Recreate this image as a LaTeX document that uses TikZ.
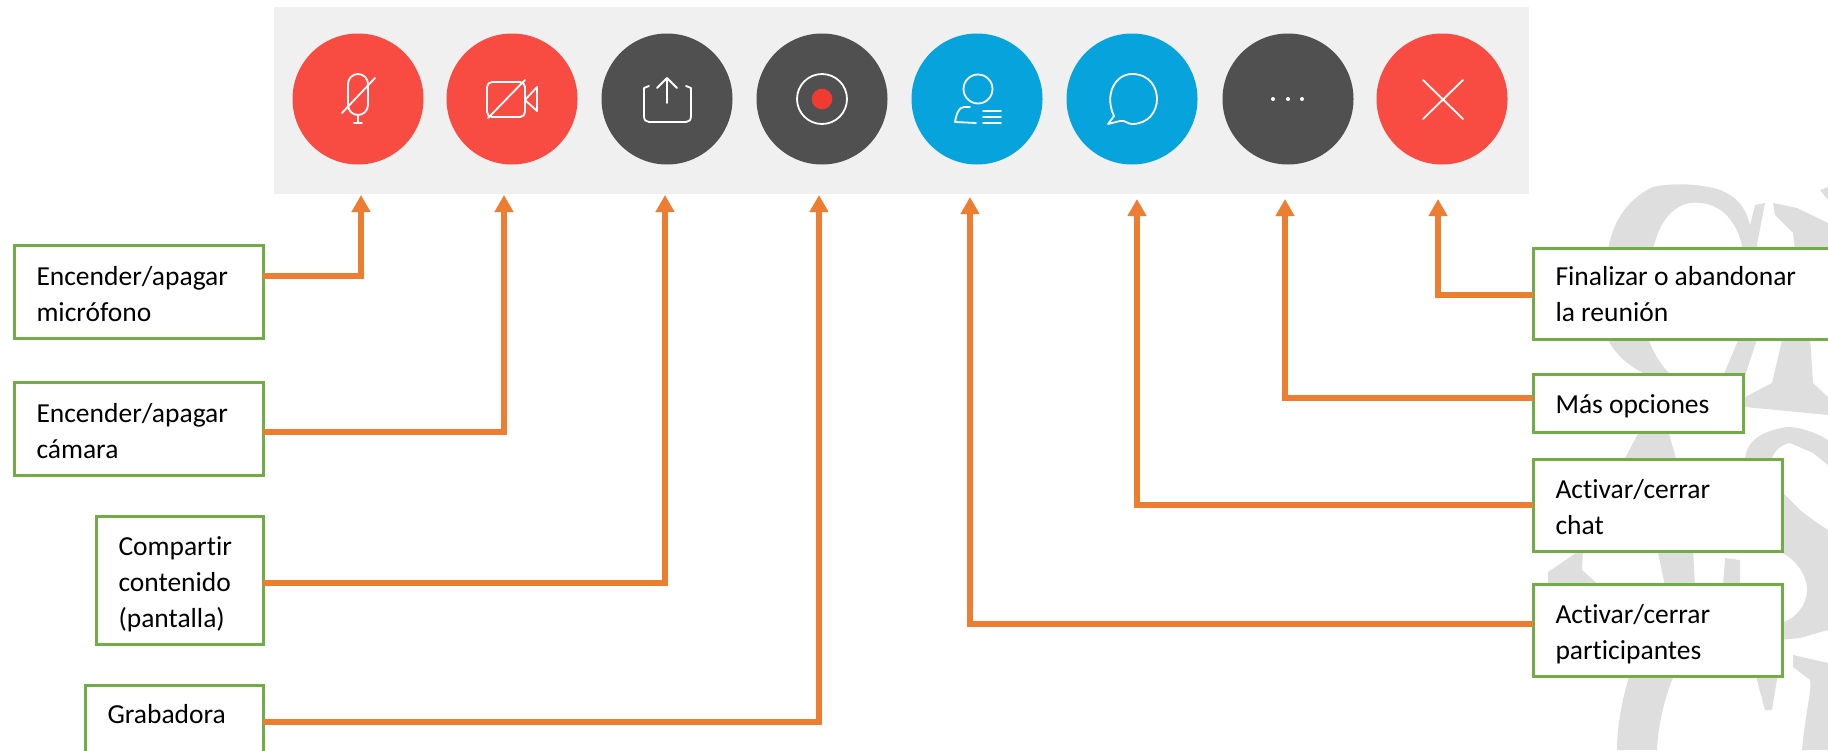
\documentclass[tikz,border=0pt]{standalone}
\usepackage{fontspec}
\setmainfont[Ligatures={NoCommon}]{Carlito}
\usetikzlibrary{arrows.meta}
\definecolor{wm}{HTML}{DEDEDE}
\definecolor{barbg}{HTML}{F0F0F0}
\definecolor{rojo}{HTML}{F84C42}
\definecolor{oscuro}{HTML}{505050}
\definecolor{azul}{HTML}{07A3DC}
\definecolor{naranja}{HTML}{ED7D31}
\definecolor{verde}{HTML}{70AD47}
\definecolor{punto}{HTML}{F23B30}
\newcommand{\lbl}[4]{\parbox[t][#2pt][t]{#1pt}{\vspace*{\dimexpr#3pt-25.2pt\relax}\raggedright\leftskip=22.5pt\relax\strut #4}}
\tikzset{
  btn/.style={circle,minimum size=131pt,inner sep=0pt,outer sep=0pt},
  lblbox/.style={draw=verde,line width=3pt,fill=white,inner sep=0pt,outer sep=0pt,anchor=north west,
    font=\fontsize{27.5}{36}\selectfont,text=black},
  conn/.style={draw=naranja,line width=5.5pt,-{Triangle[width=18pt,length=17pt]}},
  icon/.style={draw=white,line width=1.8pt,line cap=round,line join=round},
}
\begin{document}
\begin{tikzpicture}[x=1pt,y=-1pt]
\useasboundingbox (0,0) rectangle (1828,750);
\clip (0,0) rectangle (1828,750);
% watermark
\begin{scope}[fill=wm]
\fill (1608,250) .. controls (1612,225) and (1625,200) .. (1653,187) .. controls (1670,183) and (1700,183) .. (1720,190) .. controls (1735,196) and (1745,205) .. (1750,225) -- (1755,205) -- (1765,203) -- (1756,250) -- (1743,250) .. controls (1738,225) and (1725,205) .. (1700,203) .. controls (1680,200) and (1660,215) .. (1653,250) -- cycle;
\fill (1773,203) -- (1797,208) -- (1828,223) -- (1828,250) -- (1795,250) -- (1793,233) -- (1775,215) -- cycle;
\fill (1820,190) -- (1828,187) -- (1828,200) -- cycle;
\fill (1606,336) -- (1647,336) .. controls (1652,350) and (1660,365) .. (1672,376) -- (1650,376) .. controls (1630,368) and (1615,355) .. (1606,336) -- cycle;
\fill (1740,336) -- (1758,336) -- (1745,376) -- (1723,376) -- cycle;
\fill (1783,336) -- (1772,383) -- (1745,397) -- (1745,407) -- (1828,415) -- (1828,397) -- (1813,383) -- (1810,336) -- cycle;
\fill (1745,462) .. controls (1745,445) and (1755,432) .. (1787,427) .. controls (1800,427) and (1815,432) .. (1828,440) -- (1828,465) -- (1813,453) -- (1790,443) .. controls (1780,445) and (1775,450) .. (1770,462) -- cycle;
\fill (1623,462) -- (1640,430) -- (1668,430) -- (1677,462) -- cycle;
\fill (1780,490) -- (1800,510) -- (1813,520) -- (1828,530) -- (1828,630) -- (1800,638) -- (1780,640) -- (1780,623) .. controls (1795,620) and (1807,605) .. (1807,590) .. controls (1807,575) and (1795,558) .. (1780,552) -- cycle;
\fill (1548,572) -- (1570,557) -- (1583,548) -- (1582,570) -- (1600,586) -- (1548,586) -- cycle;
\fill (1657,548) -- (1693,548) -- (1695,586) -- (1665,586) -- cycle;
\fill (1725,558) -- (1740,560) -- (1740,586) -- (1723,586) -- cycle;
\fill (1755,673) -- (1778,673) -- (1772,710) -- (1765,710) -- cycle;
\fill (1793,655) -- (1828,663) -- (1828,750) -- (1802,750) .. controls (1805,715) and (1812,690) .. (1810,680) -- (1793,667) -- cycle;
\fill (1630,673) -- (1675,673) .. controls (1665,695) and (1658,725) .. (1657,750) -- (1617,750) .. controls (1617,725) and (1622,700) .. (1630,673) -- cycle;
\end{scope}
% bar and buttons
\node[fill=barbg,inner sep=0pt,outer sep=0pt,minimum width=1255pt,minimum height=187pt,anchor=north west] (bar) at (274,7) {};
\node[btn,fill=rojo] (c1) at (358,99) {};
\node[btn,fill=rojo] (c2) at (512,99) {};
\node[btn,fill=oscuro] (c3) at (667,99) {};
\node[btn,fill=oscuro] (c4) at (822,99) {};
\node[btn,fill=azul] (c5) at (977,99) {};
\node[btn,fill=azul] (c6) at (1132,99) {};
\node[btn,fill=oscuro] (c7) at (1288,99) {};
\node[btn,fill=rojo] (c8) at (1442,99) {};
% icons
\draw[icon,rounded corners=10pt] (348,74) rectangle (368,115);
\draw[icon] (342,113) -- (375,78);
\draw[icon] (358,115) -- (358,122) (354,123) -- (362,123);
\draw[icon,rounded corners=5pt] (487,82) rectangle (525,117);
\draw[icon] (525,100) -- (537,87) -- (537,111) -- cycle;
\draw[icon] (488,118) -- (525,80);
\draw[icon] (649,86) -- (644,88) -- (644,116) .. controls (644,120) and (646,122) .. (649,122) -- (686,122) .. controls (689,122) and (691,120) .. (691,116) -- (691,88) -- (686,86);
\draw[icon] (667,103) -- (667,78) (657,88) -- (667,78) -- (677,88);
\draw[icon] (822,99) circle[radius=25pt];
\fill[fill=punto] (822,99) circle[radius=10.3pt];
\draw[icon] (978,89) circle[radius=14.5pt];
\draw[icon] (970,107) -- (964,107) .. controls (958,107) and (956,116) .. (955,122) -- (976,123);
\draw[icon] (983,111) -- (1001,111) (983,117) -- (1001,117) (983,123) -- (1001,123);
\draw[icon] (1114,116) .. controls (1104,95) and (1115,74) .. (1132,74) .. controls (1150,74) and (1157,88) .. (1157,99) .. controls (1157,112) and (1148,124) .. (1132,124) .. controls (1127,124) and (1126,120) .. (1120,121) -- (1108,124) -- cycle;
\fill[white] (1273,99) circle[radius=2pt] (1288,99) circle[radius=2pt] (1302,99) circle[radius=2pt];
\draw[icon] (1423,80) -- (1463,119) (1463,80) -- (1423,119);
% boxes
\node[lblbox] (b1) at (14,245) {\lbl{249}{93}{40}{Encender/apagar\\micrófono}};
\node[lblbox] (b2) at (14,382) {\lbl{249}{93}{40}{Encender/apagar\\cámara}};
\node[lblbox] (b3) at (96,516) {\lbl{167}{128}{39}{Compartir\\contenido\\(pantalla)}};
\node[lblbox] (b4) at (85,685) {\lbl{178}{75}{38}{Grabadora}};
\node[lblbox] (r1) at (1533,248) {\lbl{310}{91}{37}{Finalizar o abandonar\\la reunión}};
\node[lblbox] (r2) at (1533,374) {\lbl{210}{58}{39}{Más opciones}};
\node[lblbox] (r3) at (1533,459) {\lbl{249}{92}{39}{Activar/cerrar\\chat}};
\node[lblbox] (r4) at (1533,584) {\lbl{249}{92}{39}{Activar/cerrar\\participantes}};
% arrow tips
\coordinate (t1) at (361,195);
\coordinate (t2) at (504,195);
\coordinate (t3) at (665,195);
\coordinate (t4) at (819,195);
\coordinate (t5) at (970,197);
\coordinate (t6) at (1137,199);
\coordinate (t7) at (1285,199);
\coordinate (t8) at (1438,199);
% connectors
\draw[conn] ([yshift=15.5pt]b1.east) -| (t1);
\draw[conn] ([yshift=-3.5pt]b2.east) -| (t2);
\draw[conn] ([yshift=-3pt]b3.east) -| (t3);
\draw[conn] ([yshift=0.5pt]b4.east) -| (t4);
\draw[conn] ([yshift=-1.5pt]r1.west) -| (t8);
\draw[conn] ([yshift=5pt]r2.west) -| (t7);
\draw[conn] (r3.west) -| (t6);
\draw[conn] ([yshift=6pt]r4.west) -| (t5);
\end{tikzpicture}
\end{document}
